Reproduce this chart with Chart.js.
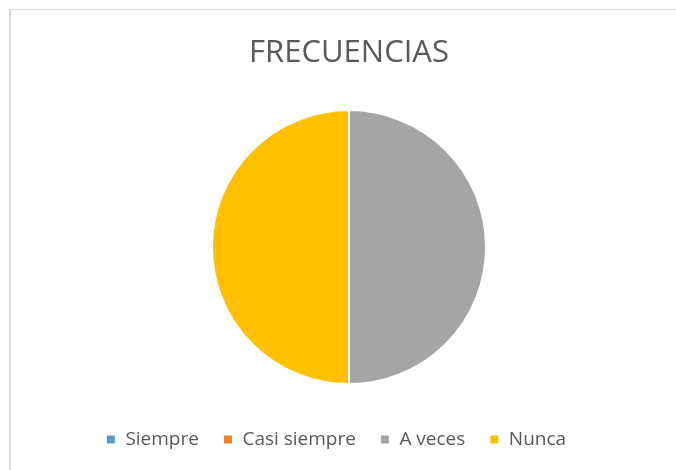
<!DOCTYPE html>
<html>
<head>
<meta charset="utf-8">
<script src="https://cdn.jsdelivr.net/npm/chart.js@4.4.1/dist/chart.umd.min.js"></script>
<style>
  html, body { margin: 0; padding: 0; background: #ffffff; }
  #wrap { position: relative; width: 676px; height: 470px; }
</style>
</head>
<body>
<div id="wrap"><canvas id="c" width="676" height="470"></canvas></div>
<script>
const categories = ['Siempre', 'Casi siempre', 'A veces', 'Nunca'];
const values = [0, 0, 1, 1];
const colors = ['#5B9BD5', '#ED7D31', '#A5A5A5', '#FFC000'];
const chartTitle = 'FRECUENCIAS';

const frame = {
  id: 'frame',
  beforeDraw(chart) {
    const ctx = chart.ctx;
    ctx.save();
    ctx.fillStyle = '#ffffff';
    ctx.fillRect(0, 0, chart.width, chart.height);
    ctx.fillStyle = '#d9d9d9';
    ctx.fillRect(9, 9, chart.width, 1);
    ctx.fillRect(9, 9, 2, chart.height);
    ctx.restore();
  }
};

new Chart(document.getElementById('c'), {
  type: 'pie',
  data: {
    labels: categories,
    datasets: [{
      data: values,
      backgroundColor: colors,
      borderColor: '#ffffff',
      borderWidth: 2,
      radius: 137
    }]
  },
  options: {
    responsive: false,
    animation: false,
    layout: { padding: { left: 0, right: 4, top: 0, bottom: 11 } },
    plugins: {
      tooltip: { enabled: false },
      title: {
        display: true,
        text: chartTitle,
        fullSize: false,
        color: '#595959',
        font: { family: 'Open Sans', size: 31, weight: 'normal', lineHeight: 1.2 },
        padding: { top: 35, bottom: 16 }
      },
      subtitle: {
        display: true,
        position: 'left',
        text: '',
        font: { size: 10, lineHeight: 1 },
        padding: { top: 16, bottom: 0 }
      },
      legend: {
        display: true,
        position: 'bottom',
        fullSize: true,
        labels: {
          color: '#595959',
          boxWidth: 10,
          boxHeight: 10,
          padding: 24,
          font: { family: 'Open Sans', size: 19 }
        }
      }
    }
  },
  plugins: [frame]
});
</script>
</body>
</html>
